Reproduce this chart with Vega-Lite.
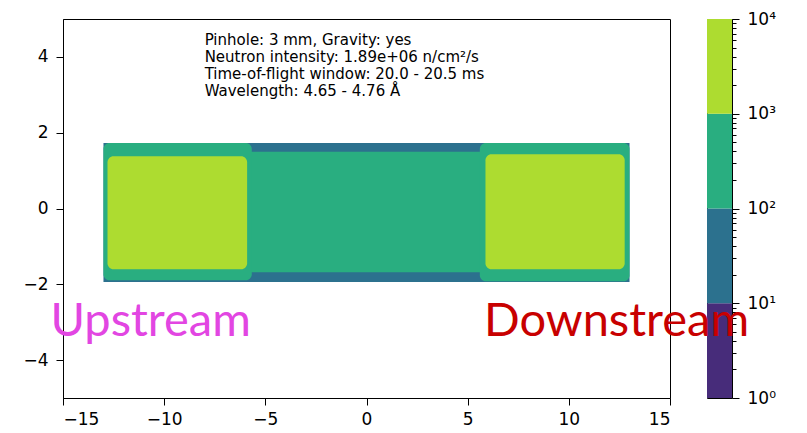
{
  "$schema": "https://vega.github.io/schema/vega-lite/v6.json",
  "background": "white",
  "padding": {"left": 22, "top": 9, "right": 5, "bottom": 5},
  "config": {
    "font": "DejaVu Sans",
    "view": {"stroke": "#000", "strokeWidth": 1},
    "axis": {"grid": false, "domainColor": "#000", "tickColor": "#000", "labelColor": "#000", "labelFontSize": 17, "labelFont": "DejaVu Sans", "title": null, "tickSize": 7, "zindex": 1}
  },
  "datasets": {
    "regions": [
      {"part": "detector", "shape": "flat", "band": "10-100", "x0": -13.0, "x1": 13.0, "y0": -1.94, "y1": 1.73},
      {"part": "middle", "shape": "flat", "band": "100-1000", "x0": -5.8, "x1": 5.7, "y0": -1.68, "y1": 1.5},
      {"part": "left box", "shape": "round", "band": "100-1000", "x0": -13.0, "x1": -5.67, "y0": -1.89, "y1": 1.73},
      {"part": "right box", "shape": "round", "band": "100-1000", "x0": 5.6, "x1": 13.0, "y0": -1.92, "y1": 1.73},
      {"part": "left core", "shape": "round", "band": "1000-10000", "x0": -12.8, "x1": -5.9, "y0": -1.6, "y1": 1.38},
      {"part": "right core", "shape": "round", "band": "1000-10000", "x0": 5.88, "x1": 12.76, "y0": -1.6, "y1": 1.43}
    ],
    "bar": [
      {"band": "1-10", "lo": 1, "hi": 10},
      {"band": "10-100", "lo": 10, "hi": 100},
      {"band": "100-1000", "lo": 100, "hi": 1000},
      {"band": "1000-10000", "lo": 1000, "hi": 10000}
    ]
  },
  "spacing": 37,
  "bounds": "flush",
  "hconcat": [
    {
      "width": 607,
      "height": 379,
      "layer": [
        {
          "data": {"name": "regions"},
          "transform": [{"filter": "datum.shape == 'flat'"}],
          "mark": {"type": "rect"},
          "encoding": {
            "x": {"field": "x0", "type": "quantitative", "scale": {"domain": [-15, 15], "nice": false, "zero": false}, "axis": {"values": [-15, -10, -5, 0, 5, 10, 15], "labelPadding": 6}},
            "x2": {"field": "x1"},
            "y": {"field": "y0", "type": "quantitative", "scale": {"domain": [-5, 5], "nice": false, "zero": false}, "axis": {"values": [-4, -2, 0, 2, 4], "labelPadding": 8}},
            "y2": {"field": "y1"},
            "color": {"field": "band", "type": "nominal", "scale": {"domain": ["1-10", "10-100", "100-1000", "1000-10000"], "range": ["#472c7a", "#2c718e", "#29ae80", "#addc30"]}, "legend": null}
          }
        },
        {
          "data": {"name": "regions"},
          "transform": [{"filter": "datum.shape == 'round'"}],
          "mark": {"type": "rect", "cornerRadius": 6},
          "encoding": {
            "x": {"field": "x0", "type": "quantitative"},
            "x2": {"field": "x1"},
            "y": {"field": "y0", "type": "quantitative"},
            "y2": {"field": "y1"},
            "color": {"field": "band", "type": "nominal", "legend": null}
          }
        },
        {
          "data": {"values": [{}]},
          "mark": {"type": "text", "align": "left", "baseline": "top", "fontSize": 15, "lineHeight": 16.8, "color": "#000", "font": "DejaVu Sans"},
          "encoding": {
            "x": {"datum": -8.0, "type": "quantitative"},
            "y": {"datum": 4.62, "type": "quantitative"},
            "text": {"value": ["Pinhole: 3 mm, Gravity: yes", "Neutron intensity: 1.89e+06 n/cm²/s", "Time-of-flight window: 20.0 - 20.5 ms", "Wavelength: 4.65 - 4.76 Å"]}
          }
        },
        {
          "data": {"values": [{}]},
          "mark": {"type": "text", "align": "left", "baseline": "alphabetic", "fontSize": 47, "font": "Lato", "color": "#e246e2"},
          "encoding": {
            "x": {"datum": -15.62, "type": "quantitative"},
            "y": {"datum": -3.37, "type": "quantitative"},
            "text": {"value": "Upstream"}
          }
        }
      ]
    },
    {
      "width": 25,
      "height": 379,
      "layer": [
        {
          "data": {"name": "bar"},
          "mark": {"type": "rect"},
          "encoding": {
            "x": {"datum": 0, "type": "quantitative", "scale": {"domain": [0, 1], "nice": false, "zero": false}, "axis": null},
            "x2": {"datum": 1},
            "y": {"field": "lo", "type": "quantitative", "scale": {"type": "log", "domain": [1, 10000], "nice": false}, "axis": {"orient": "right", "domain": false, "labelOverlap": false, "labelFlush": false, "labelBound": false, "labelPadding": 8, "values": [1, 2, 3, 4, 5, 6, 7, 8, 9, 10, 20, 30, 40, 50, 60, 70, 80, 90, 100, 200, 300, 400, 500, 600, 700, 800, 900, 1000, 2000, 3000, 4000, 5000, 6000, 7000, 8000, 9000, 10000], "labelExpr": "datum.value == 1 ? '10⁰' : datum.value == 10 ? '10¹' : datum.value == 100 ? '10²' : datum.value == 1000 ? '10³' : datum.value == 10000 ? '10⁴' : ''", "tickSize": {"condition": {"test": "indexof([1, 10, 100, 1000, 10000], datum.value) >= 0", "value": 7}, "value": 4}}},
            "y2": {"field": "hi"},
            "color": {"field": "band", "type": "nominal", "legend": null}
          }
        },
        {
          "data": {"values": [{}]},
          "mark": {"type": "text", "align": "left", "baseline": "alphabetic", "fontSize": 47, "font": "Lato", "color": "#c80000"},
          "encoding": {
            "x": {"datum": -8.92, "type": "quantitative"},
            "y": {"datum": 4.51, "type": "quantitative"},
            "text": {"value": "Downstream"}
          }
        }
      ]
    }
  ]
}
